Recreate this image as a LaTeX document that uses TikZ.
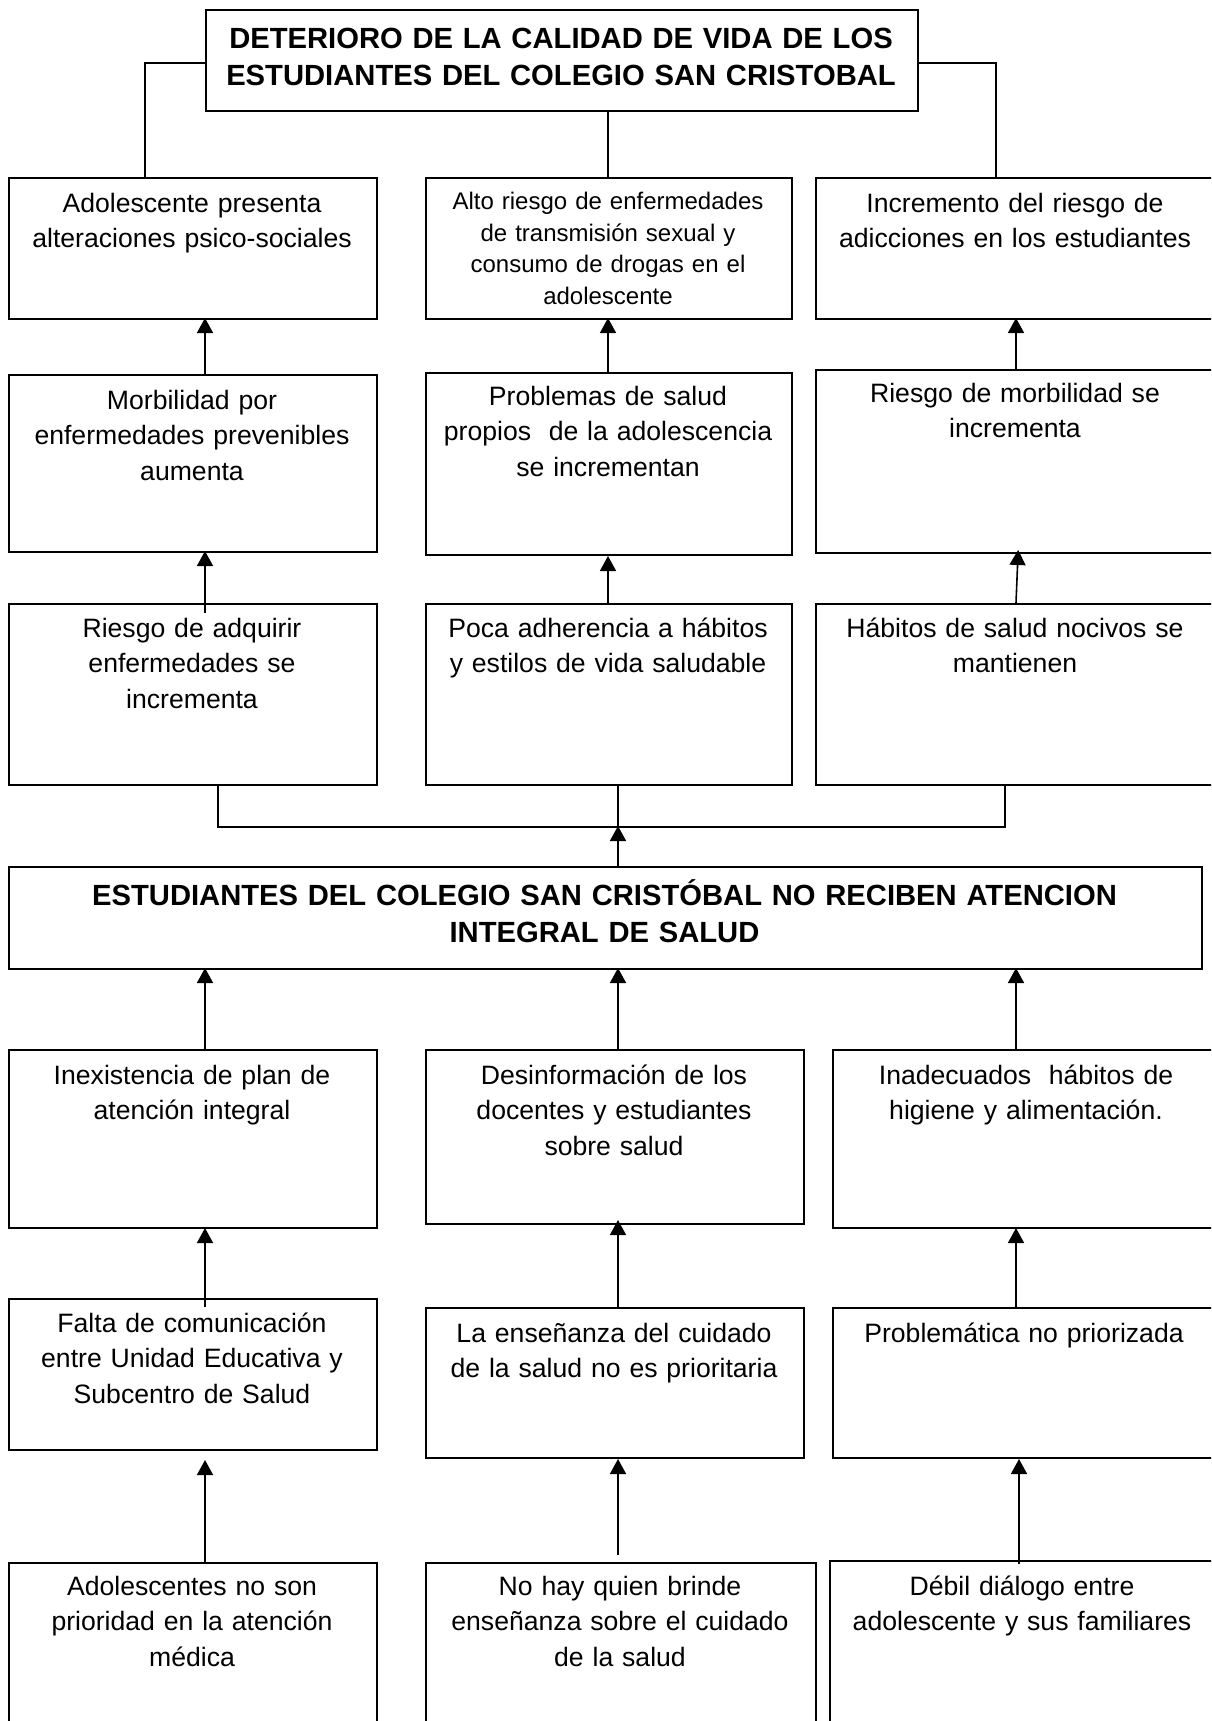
\documentclass[tikz,border=0pt]{standalone}
\usepackage{fontspec}
\setmainfont{Liberation Sans}
\usetikzlibrary{arrows.meta}
\newcommand\mkbox[5]{\node[box,anchor=north west,minimum width={(#4-#2)*1pt},minimum height={(#5-#3)*1pt}] (#1) at (#2,#3) {};}
\begin{document}
\begin{tikzpicture}[x=1pt,y=-1pt,
  box/.style={draw,rectangle,line width=2pt,inner sep=0pt},
  con/.style={line width=1.6pt},
  arr/.style={con,-{Triangle[width=16pt,length=15pt]}},
  txt/.style={inner sep=0pt,align=center,text width=#1,anchor=base,font=\fontsize{26.6}{35.5}\selectfont},
  txt/.default=360pt,
  smalltxt/.style={txt=360pt,font=\fontsize{24}{31.7}\selectfont},
  boldtxt/.style={txt=#1,font=\fontsize{29.2}{37}\selectfont\bfseries}]
\useasboundingbox (0,0) rectangle (1211,1721);
\clip (0,0) rectangle (1211,1721);
% boxes
\mkbox{T}{205}{9}{917}{110}
\mkbox{R1a}{8}{177}{376}{318}
\mkbox{R1b}{425}{177}{791}{318}
\mkbox{R1c}{815}{177}{1215}{318}
\mkbox{R2a}{8}{374}{376}{551}
\mkbox{R2b}{425}{372}{791}{554}
\mkbox{R2c}{815}{369}{1215}{552}
\mkbox{R3a}{8}{603}{376}{784}
\mkbox{R3b}{425}{603}{791}{784}
\mkbox{R3c}{815}{603}{1215}{784}
\mkbox{M}{8}{866}{1201}{968}
\mkbox{R4a}{8}{1049}{376}{1227}
\mkbox{R4b}{425}{1049}{803}{1223}
\mkbox{R4c}{832}{1049}{1220}{1227}
\mkbox{R5a}{8}{1298}{376}{1449}
\mkbox{R5b}{425}{1307}{803}{1457}
\mkbox{R5c}{832}{1307}{1220}{1457}
\mkbox{R6a}{8}{1562}{376}{1780}
\mkbox{R6b}{425}{1562}{815}{1780}
\mkbox{R6c}{829}{1560}{1215}{1780}
% texts
\node[boldtxt=700pt] (T-t) at (561,48.5) {DETERIORO DE LA CALIDAD DE VIDA DE LOS\\ESTUDIANTES DEL COLEGIO SAN CRISTOBAL};
\node[txt] (R1a-t) at (192,212) {Adolescente presenta\\alteraciones psico-sociales};
\node[smalltxt] (R1b-t) at (608,209.5) {Alto riesgo de enfermedades\\de transmisión sexual y\\consumo de drogas en el\\adolescente};
\node[txt] (R1c-t) at (1015,212) {Incremento del riesgo de\\adicciones en los estudiantes};
\node[txt] (R2a-t) at (192,409) {Morbilidad por\\enfermedades prevenibles\\aumenta};
\node[txt] (R2b-t) at (608,405) {Problemas de salud\\propios\ \ de la adolescencia\\se incrementan};
\node[txt] (R2c-t) at (1015,402) {Riesgo de morbilidad se\\incrementa};
\node[txt] (R3a-t) at (192,637) {Riesgo de adquirir\\enfermedades se\\incrementa};
\node[txt] (R3b-t) at (608,637) {Poca adherencia a hábitos\\y estilos de vida saludable};
\node[txt] (R3c-t) at (1015,637) {Hábitos de salud nocivos se\\mantienen};
\node[boldtxt=1150pt] (M-t) at (604.5,905) {ESTUDIANTES DEL COLEGIO SAN CRISTÓBAL NO RECIBEN ATENCION\\INTEGRAL DE SALUD};
\node[txt] (R4a-t) at (192,1084) {Inexistencia de plan de\\atención integral};
\node[txt] (R4b-t) at (614,1084) {Desinformación de los\\docentes y estudiantes\\sobre salud};
\node[txt] (R4c-t) at (1026,1084) {Inadecuados\ \ hábitos de\\higiene y alimentación.};
\node[txt] (R5a-t) at (192,1332) {Falta de comunicación\\entre Unidad Educativa y\\Subcentro de Salud};
\node[txt] (R5b-t) at (614,1342) {La enseñanza del cuidado\\de la salud no es prioritaria};
\node[txt] (R5c-t) at (1024,1342) {Problemática no priorizada};
\node[txt] (R6a-t) at (192,1595) {Adolescentes no son\\prioridad en la atención\\médica};
\node[txt] (R6b-t) at (620,1595) {No hay quien brinde\\enseñanza sobre el cuidado\\de la salud};
\node[txt] (R6c-t) at (1022,1595) {Débil diálogo entre\\adolescente y sus familiares};
% column coordinates
\coordinate (cL) at (205,0);
\coordinate (cM) at (608,0);
\coordinate (cR) at (1016,0);
\coordinate (cRb) at (1018,0);
\coordinate (dM) at (618,0);
\coordinate (eR) at (1019,0);
\coordinate (tl) at (145,63);
\coordinate (tr) at (996,63);
\coordinate (jL) at (218,827);
\coordinate (jM) at (618,827);
\coordinate (jR) at (1005,827);
% title connectors
\draw[con] (T.west |- tl) -- (tl) -- (tl |- R1a.north);
\draw[con] (T.east |- tr) -- (tr) -- (tr |- R1c.north);
\draw[con] (T.south -| cM) -- (R1b.north -| cM);
% row 2 -> row 1
\draw[arr,shorten >=-2pt] (R2a.north -| cL) -- (R1a.south -| cL);
\draw[arr,shorten >=-2pt] (R2b.north -| cM) -- (R1b.south -| cM);
\draw[arr,shorten >=-2pt] (R2c.north -| cR) -- (R1c.south -| cR);
% row 3 -> row 2
\draw[arr,shorten <=-10pt,shorten >=-2pt] (R3a.north -| cL) -- (R2a.south -| cL);
\draw[arr] (R3b.north -| cM) -- (R2b.south -| cM);
\draw[arr,shorten >=-4pt] (R3c.north -| cR) -- (R2c.south -| cRb);
% bracket
\draw[con] (R3a.south -| jL) -- (jL) -- (jR) -- (R3c.south -| jR);
\draw[con] (R3b.south -| jM) -- (jM);
\draw[arr,shorten >=-1pt] (M.north -| jM) -- (jM);
% row 4 -> main
\draw[arr,shorten >=-2pt] (R4a.north -| cL) -- (M.south -| cL);
\draw[arr,shorten >=-2pt] (R4b.north -| dM) -- (M.south -| dM);
\draw[arr,shorten >=-2pt] (R4c.north -| cR) -- (M.south -| cR);
% row 5 -> row 4
\draw[arr,shorten <=-9pt,shorten >=-1pt] (R5a.north -| cL) -- (R4a.south -| cL);
\draw[arr,shorten >=-5pt] (R5b.north -| dM) -- (R4b.south -| dM);
\draw[arr,shorten >=-1pt] (R5c.north -| cR) -- (R4c.south -| cR);
% row 6 -> row 5
\draw[arr,shorten >=9pt] (R6a.north -| cL) -- (R5a.south -| cL);
\draw[arr,shorten <=7pt] (R6b.north -| dM) -- (R5b.south -| dM);
\draw[arr,shorten <=-4pt] (R6c.north -| eR) -- (R5c.south -| eR);
\end{tikzpicture}
\end{document}
